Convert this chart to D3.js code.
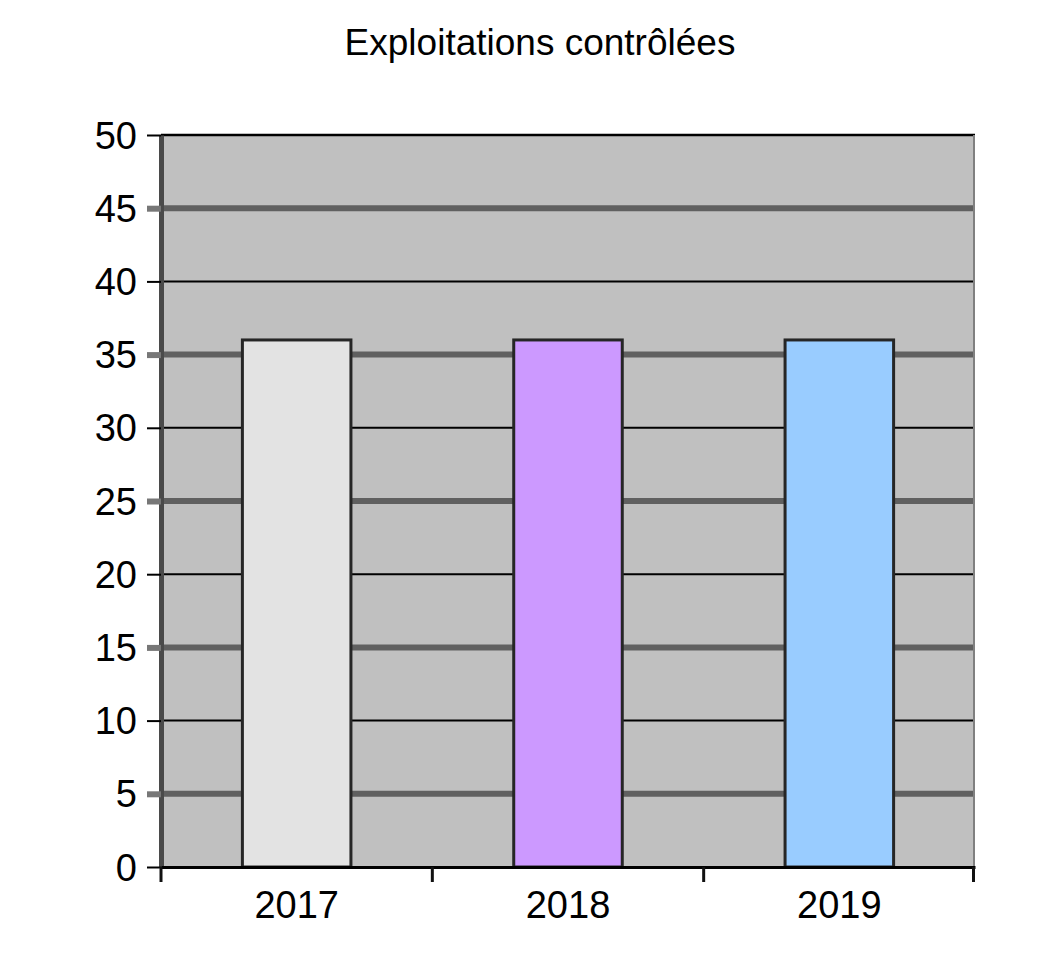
<!DOCTYPE html>
<html><head><meta charset="utf-8">
<script src="https://cdn.jsdelivr.net/npm/d3@7"></script>
<style>body{margin:0;background:#fff}svg{display:block}text{font-family:"Liberation Sans",Arial,sans-serif;fill:#000}</style>
</head><body>
<svg id="c" width="1057" height="958"></svg>
<script>
const title = "Exploitations contrôlées";
const categories = ["2017", "2018", "2019"];
const values = [36, 36, 36];
const barColors = ["#e3e3e3", "#cc99ff", "#99ccff"];
const yTicks = [0, 5, 10, 15, 20, 25, 30, 35, 40, 45, 50];

const svg = d3.select("#c");
const L = 161, R = 975, T = 135, B = 867;
const x = d3.scaleBand().domain(categories).range([L, R]).paddingInner(0.6).paddingOuter(0.3);
const xb = d3.scaleBand().domain(categories).range([L, R]);
const y = d3.scaleLinear().domain([0, 50]).range([B, T]);

svg.append("rect").attr("x", L).attr("y", T).attr("width", R - L).attr("height", B - T).attr("fill", "#c0c0c0");

// gridlines
yTicks.filter(v => v > 0 && v < 50).forEach(v => {
  const thick = v % 10 === 5;
  svg.append("line").attr("x1", L).attr("x2", R).attr("y1", y(v)).attr("y2", y(v))
    .attr("stroke", thick ? "#606060" : "#000").attr("stroke-width", thick ? 6 : 2);
});
// top border
svg.append("line").attr("x1", L).attr("x2", R).attr("y1", T).attr("y2", T).attr("stroke", "#000").attr("stroke-width", 2.5);
// right border
svg.append("line").attr("x1", R - 1).attr("x2", R - 1).attr("y1", T).attr("y2", B).attr("stroke", "#808080").attr("stroke-width", 2);

// bars
svg.selectAll("rect.bar").data(values).join("rect").attr("class", "bar")
  .attr("x", (d, i) => x(categories[i])).attr("width", x.bandwidth())
  .attr("y", d => y(d)).attr("height", d => B - y(d))
  .attr("fill", (d, i) => barColors[i]).attr("stroke", "#262626").attr("stroke-width", 3);

// y axis
const ya = svg.append("g").attr("transform", `translate(${L},0)`)
  .call(d3.axisLeft(y).tickValues(yTicks).tickSize(14).tickPadding(10).tickSizeOuter(0));
ya.select(".domain").attr("stroke", "#4a4a4a").attr("stroke-width", 5);
ya.selectAll(".tick line").attr("stroke", d => d % 10 === 5 ? "#777" : "#000").attr("stroke-width", d => d % 10 === 5 ? 6 : 2);
ya.selectAll(".tick text").attr("dy", null).attr("dominant-baseline", "central")
  .style("font-size", "38px").attr("x", -24);

// x axis
const xa = svg.append("g").attr("transform", `translate(0,${B})`)
  .call(d3.axisBottom(xb).tickSize(0).tickPadding(0).tickSizeOuter(0));
xa.select(".domain").attr("stroke", "#000").attr("stroke-width", 3);
xa.selectAll(".tick text").style("font-size", "38px").attr("y", 24).attr("dy", "0.71em");
const boundaries = [L, ...categories.map(c => xb(c) + xb.bandwidth())];
svg.selectAll("line.xt").data(boundaries).join("line").attr("class", "xt")
  .attr("x1", d => d === R ? d - 1.5 : d).attr("x2", d => d === R ? d - 1.5 : d)
  .attr("y1", B).attr("y2", B + 15).attr("stroke", "#111").attr("stroke-width", 3);

// title
svg.append("text").attr("x", 540).attr("y", 55).attr("text-anchor", "middle").style("font-size", "37px").text(title);
</script>
</body></html>
